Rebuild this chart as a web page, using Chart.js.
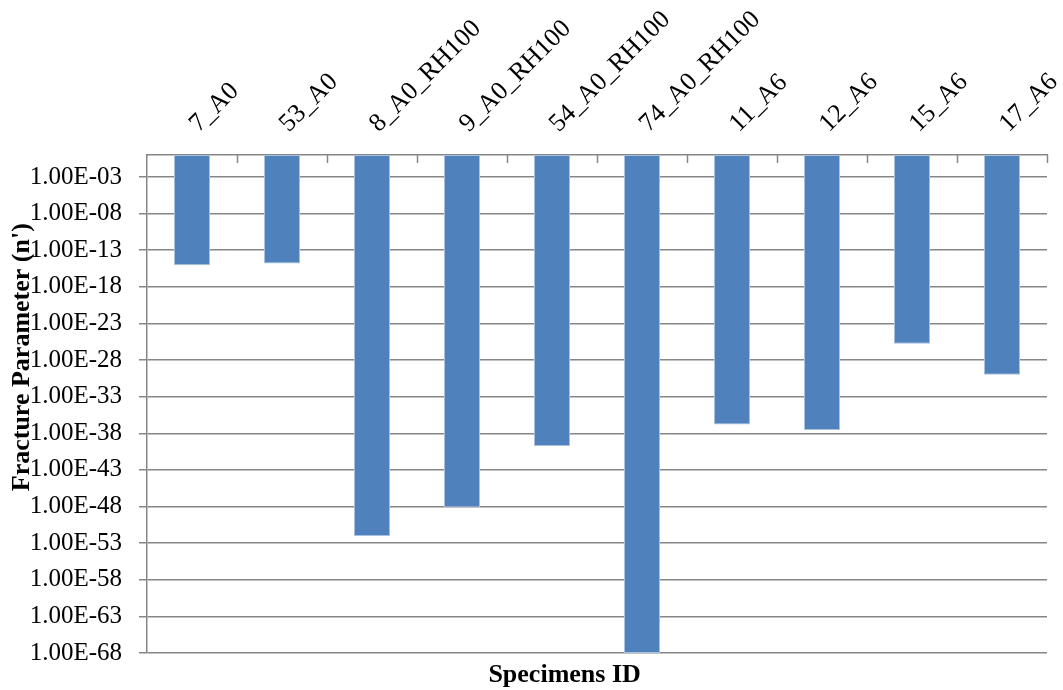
<!DOCTYPE html>
<html><head><meta charset="utf-8">
<script src="https://cdn.jsdelivr.net/npm/chart.js@4/dist/chart.umd.min.js"></script>
<style>html,body{margin:0;padding:0;background:#fff}#wrap{width:1063px;height:690px;position:relative}</style>
</head><body><div id="wrap"><canvas id="c"></canvas></div>
<script>
const categories = ['7_A0','53_A0','8_A0_RH100','9_A0_RH100','54_A0_RH100','74_A0_RH100','11_A6','12_A6','15_A6','17_A6'];
const fractureParameter = [8.7e-16, 1.5e-15, 9.8e-53, 8.1e-49, 1.9e-40, 1.0e-68, 1.6e-37, 2.8e-38, 1.7e-26, 1.0e-30];
const barBase = 1;
const yTickValues = [1e-3, 1e-8, 1e-13, 1e-18, 1e-23, 1e-28, 1e-33, 1e-38, 1e-43, 1e-48, 1e-53, 1e-58, 1e-63, 1e-68];
const yMin = 1e-68, yMax = 1;
const xTitle = 'Specimens ID';
const yTitle = "Fracture Parameter (n')";

const GRID = '#868686';
const FONT = '"Liberation Serif", "Times New Roman", serif';

function fmtExp(v){
  const parts = v.toExponential(2).split('e');
  const e = parseInt(parts[1],10);
  return parts[0] + 'E' + (e<0?'-':'+') + String(Math.abs(e)).padStart(2,'0');
}

const decor = {
  id:'decor',
  afterDraw(chart){
    const {ctx, chartArea} = chart;
    ctx.save();
    ctx.strokeStyle = GRID; ctx.lineWidth = 1.5;
    const n = categories.length;
    const w = (chartArea.right - chartArea.left)/n;
    for(let i=1;i<=n;i++){
      const px = Math.round(chartArea.left + i*w) + 0.5;
      ctx.beginPath(); ctx.moveTo(px, chartArea.top); ctx.lineTo(px, chartArea.top + 8); ctx.stroke();
    }
    ctx.fillStyle = '#000';
    ctx.font = 'bold 26px ' + FONT;
    ctx.textAlign = 'center'; ctx.textBaseline = 'middle';
    ctx.fillText(xTitle, chartArea.left + (chartArea.right-chartArea.left)*0.464, chartArea.bottom + 22);
    ctx.translate(22, chartArea.top + (chartArea.bottom-chartArea.top)*0.406);
    ctx.rotate(-Math.PI/2);
    ctx.fillText(yTitle, 0, 0);
    ctx.restore();
  }
};

new Chart(document.getElementById('c'), {
  type:'bar',
  data:{
    labels: categories,
    datasets:[{
      label:'Fracture Parameter',
      data: fractureParameter.map(v => [barBase, v]),
      backgroundColor:'#4F81BD',
      borderColor:'#a9c0de',
      borderWidth:1,
      borderSkipped:false,
      categoryPercentage:1,
      barPercentage:0.4
    }]
  },
  options:{
    responsive:true,
    maintainAspectRatio:false,
    animation:false,
    events:[],
    layout:{autoPadding:false, padding:{left:0, top:0, right:16, bottom:37}},
    plugins:{legend:{display:false}, tooltip:{enabled:false}},
    scales:{
      x:{
        type:'category',
        position:'top',
        offset:true,
        grid:{display:false, drawTicks:false},
        border:{display:true, color:GRID, width:1.5},
        ticks:{
          color:'#000', font:{family:FONT, size:26},
          minRotation:45, maxRotation:45, autoSkip:false, padding:16, labelOffset:24
        },
        afterFit(s){ s.height = 155; s.paddingLeft = 0; s.paddingRight = 0; }
      },
      y:{
        type:'logarithmic',
        min:yMin, max:yMax,
        grid:{color:GRID, lineWidth:1.5, tickLength:8, drawTicks:true},
        border:{display:true, color:GRID, width:1.5},
        afterBuildTicks(s){ s.ticks = yTickValues.map(v => ({value:v})); },
        ticks:{
          color:'#000', font:{family:FONT, size:25}, padding:17,
          autoSkip:false,
          callback:(v) => fmtExp(v)
        },
        afterFit(s){ s.width = 147; s.paddingTop = 0; s.paddingBottom = 0; }
      }
    }
  },
  plugins:[decor]
});
</script>
</body></html>
